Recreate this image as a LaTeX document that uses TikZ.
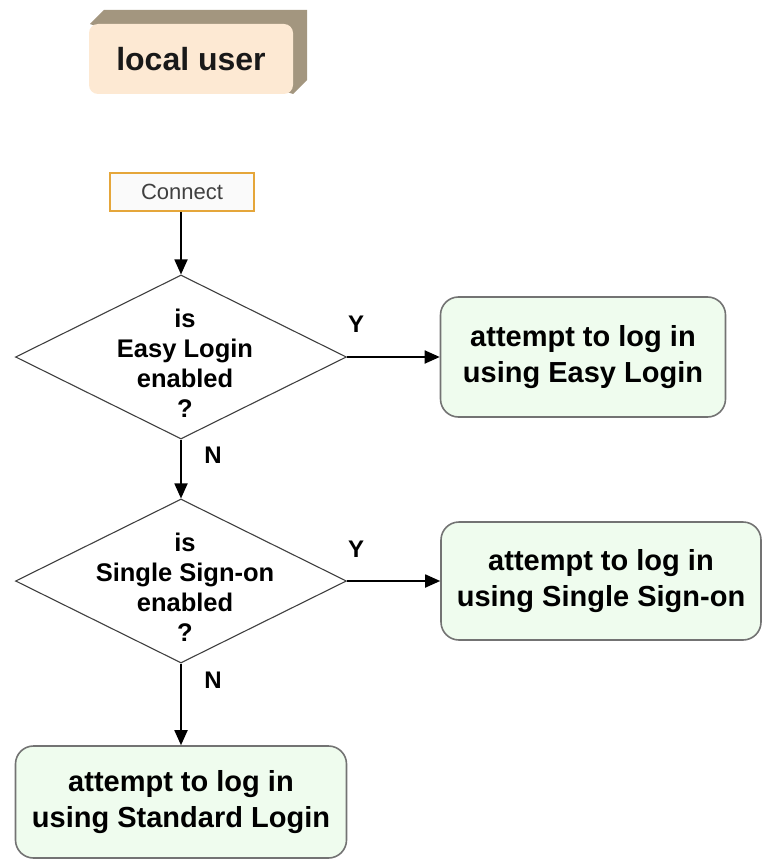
\documentclass[tikz,border=0pt]{standalone}
\usepackage{fontspec}
\setmainfont{Liberation Sans}
\usetikzlibrary{arrows.meta,shapes.geometric}
\definecolor{peach}{HTML}{FDE9D3}
\definecolor{taupe}{HTML}{A3967F}
\definecolor{mint}{HTML}{EFFCEE}
\definecolor{gold}{HTML}{E5A63A}
\begin{document}
\begin{tikzpicture}[
  x=1pt, y=-1pt,
  user/.style={fill=peach, rounded corners=9pt, minimum width=204pt, minimum height=70pt, font=\bfseries\fontsize{32}{36}\selectfont, text=black!90},
  start/.style={draw=gold, line width=1.6pt, fill=gray!4, minimum width=144pt, minimum height=38pt, font=\fontsize{22}{26}\selectfont, text=black!75},
  decision/.style={diamond, draw=black!75, line width=1.1pt, fill=white, minimum width=331pt, minimum height=164pt, inner sep=0pt},
  dtext/.style={align=center, font=\bfseries\fontsize{25.5}{30}\selectfont},
  action/.style={draw=black!55, line width=1.6pt, fill=mint, rounded corners=18pt, align=center, font=\bfseries\fontsize{29}{36}\selectfont},
  answer/.style={font=\bfseries\fontsize{24}{28}\selectfont},
  line/.style={draw=black, line width=1.8pt, -{Triangle[length=15pt,width=13pt]}}
]
\useasboundingbox (0,0) rectangle (762,861);

\fill[taupe] (90,24) -- (104,10) -- (307,10) -- (307,80) -- (293,94) -- cycle;
\node[user] (localuser) at (191,59) {local user};

\node[start] (connect) at (182,192) {Connect};

\node[decision] (easy) at (181,357) {};
\node[dtext] (easytext) at (185,363) {is\\Easy Login\\enabled\\?};
\node[decision] (single) at (181,581) {};
\node[dtext] (singletext) at (185,587) {is\\Single Sign-on\\enabled\\?};

\node[action, minimum width=285pt, minimum height=120pt] (easylogin) at (583,357) {attempt to log in\\using Easy Login};
\node[action, minimum width=320pt, minimum height=118pt] (sso) at (601,581) {attempt to log in\\using Single Sign-on};
\node[action, minimum width=331pt, minimum height=112pt] (standard) at (181,802) {attempt to log in\\using Standard Login};

\draw[line] (connect.south -| easy.north) -- (easy.north);
\draw[line] (easy.east) -- (easylogin.west);
\draw[line] (easy.south) -- (single.north);
\draw[line] (single.east) -- (sso.west);
\draw[line] (single.south) -- (standard.north);

\node[answer] (easyyes) at (356,324) {Y};
\node[answer] (easyno) at (213,455) {N};
\node[answer] (singleyes) at (356,549) {Y};
\node[answer] (singleno) at (213,680) {N};
\end{tikzpicture}
\end{document}
